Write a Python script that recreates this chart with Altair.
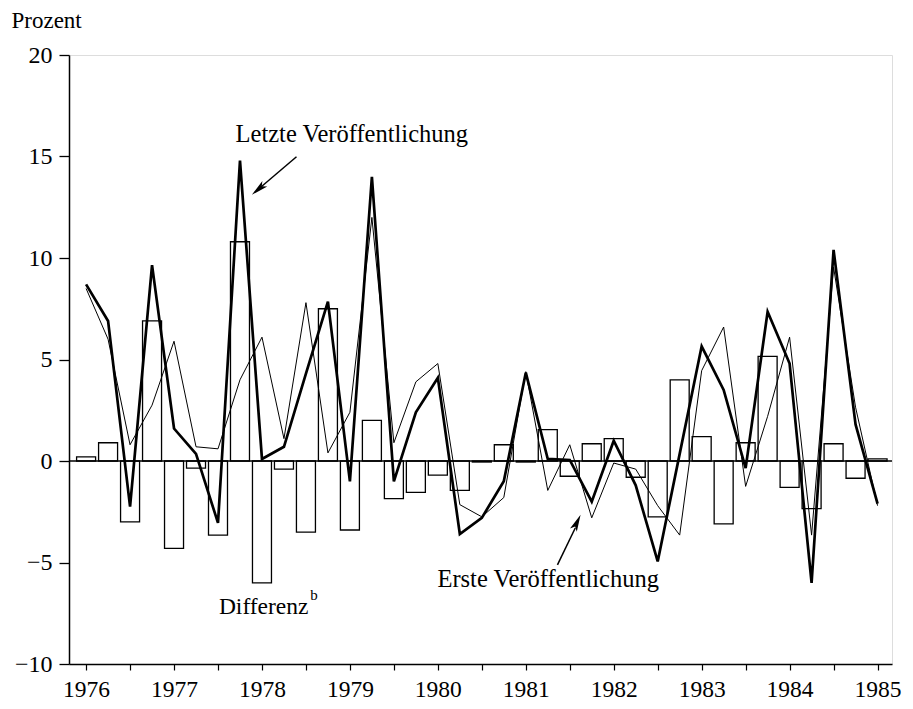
import altair as alt
import pandas as pd

# quarterly index 0 = 1976 Q1 ... 36 = 1985 Q1
QUARTER = list(range(37))
LETZTE = [8.7, 6.9, -2.25, 9.65, 1.6, 0.35, -3.05, 14.8, 0.1, 0.7, 4.3, 7.85, -1.0,
          14.0, -1.0, 2.4, 4.1, -3.6, -2.8, -1.0, 4.35, 0.1, 0.05, -2.0, 1.0, -1.2,
          -4.95, 0.35, 5.65, 3.5, -0.35, 7.35, 4.8, -6.0, 10.4, 1.8, -2.1]
ERSTE = [8.5, 6.0, 0.8, 2.75, 5.9, 0.7, 0.6, 4.0, 6.1, 1.1, 7.8, 0.4, 2.4,
         12.0, 0.9, 3.9, 4.8, -2.15, -2.75, -1.8, 4.4, -1.45, 0.8, -2.8, -0.1, -0.4,
         -2.2, -3.65, 4.45, 6.6, -1.25, 2.2, 6.1, -3.65, 9.55, 2.65, -2.2]
DIFF = [0.2, 0.9, -3.0, 6.9, -4.3, -0.35, -3.65, 10.8, -6.0, -0.4, -3.5, 7.5, -3.4,
        2.0, -1.85, -1.55, -0.7, -1.45, -0.05, 0.8, -0.05, 1.55, -0.75, 0.85, 1.1, -0.8,
        -2.75, 4.0, 1.2, -3.1, 0.9, 5.15, -1.3, -2.35, 0.85, -0.85, 0.1]
YEARS = ["1976", "1977", "1978", "1979", "1980", "1981", "1982", "1983", "1984", "1985"]
Y_TICKS = [-10, -5, 0, 5, 10, 15, 20]

FONT = "Liberation Serif"

df = pd.DataFrame({"q": QUARTER, "letzte": LETZTE, "erste": ERSTE, "diff": DIFF})
one = pd.DataFrame({"a": [0]})

year_arr = "[" + ",".join("'" + y + "'" for y in YEARS) + "]"
label_expr = f"datum.value % 4 === 0 ? {year_arr}[datum.value / 4] : ''"

xscale = alt.Scale(domain=[-0.55, 36.43], nice=False, zero=False)
yscale = alt.Scale(domain=[-10, 20], nice=False, zero=False)

xaxis = alt.Axis(values=QUARTER, labelExpr=label_expr, tickSize=6, labelPadding=7,
                 domainColor="black", tickColor="black", labelColor="black",
                 labelFont=FONT, labelFontSize=23.5, grid=False, title=None,
                 domainWidth=1.3, tickWidth=1.2, labelFlush=False, labelOverlap=False)
yaxis = alt.Axis(values=Y_TICKS, tickSize=10, labelPadding=7,
                 domainColor="black", tickColor="black", labelColor="black",
                 labelFont=FONT, labelFontSize=24, grid=False,
                 title="Prozent", titleAngle=0, titleAlign="left", titleBaseline="middle",
                 titleX=-58, titleY=-35, titleFont=FONT, titleFontSize=23,
                 titleFontWeight="normal", titleColor="black",
                 domainWidth=1.5, tickWidth=1.3)

base = alt.Chart(df)

bars = base.mark_bar(width=19, fill="transparent", stroke="black", strokeWidth=1.3).encode(
    x=alt.X("q:Q", scale=xscale, axis=xaxis),
    y=alt.Y("diff:Q", scale=yscale, axis=yaxis),
)

zero = alt.Chart(one).mark_rule(color="black", strokeWidth=1.6).encode(y=alt.datum(0))

thin = base.mark_line(color="black", strokeWidth=1.0).encode(x="q:Q", y="erste:Q")
thick = base.mark_line(color="black", strokeWidth=2.7).encode(x="q:Q", y="letzte:Q")


def text(label, x, y, size=24.5, dy=0):
    return alt.Chart(one).mark_text(text=label, font=FONT, fontSize=size, align="left",
                                    baseline="middle", color="black", dy=dy).encode(
        x=alt.datum(x), y=alt.datum(y))


def arrow(x1, y1, x2, y2):
    return alt.Chart(one).mark_rule(color="black", strokeWidth=1.5).encode(
        x=alt.datum(x1), y=alt.datum(y1), x2=alt.datum(x2), y2=alt.datum(y2))


def head(x, y, ang):
    return alt.Chart(one).mark_point(shape="M0,-1L0.42,0.9L0,0.45L-0.42,0.9Z", size=320,
                                     filled=True, color="black", opacity=1,
                                     angle=ang).encode(x=alt.datum(x), y=alt.datum(y))


layers = [
    bars, zero, thin, thick,
    text("Letzte Veröffentlichung", 6.8, 16.06),
    text("Erste Veröffentlichung", 15.98, -5.86),
    text("Differenz", 6.04, -7.19, size=23.5),
    text("b", 10.2, -6.6, size=15),
    arrow(9.57, 14.99, 7.9, 13.45),
    head(7.85, 13.4, 229.6),
    arrow(21.44, -5.12, 22.25, -3.3),
    head(22.32, -3.05, 25),
]

chart = alt.layer(*layers).properties(
    width=823, height=609,
    autosize=alt.AutoSizeParams(type="none"),
    padding={"left": 61, "top": 47, "right": 13, "bottom": 36},
).configure_view(stroke=None).configure(background="white")

chart.save("out.html", embed_options={"renderer": "svg", "actions": False})
